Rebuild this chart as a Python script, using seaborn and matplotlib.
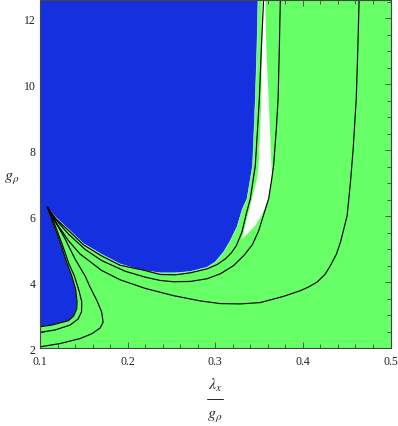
import matplotlib
matplotlib.use('Agg')
import matplotlib.pyplot as plt
import seaborn as sns
from matplotlib.ticker import MultipleLocator
from matplotlib.lines import Line2D

# outer curve: left border -> cusp -> top (edge of the blue area on the left)
a_x = [0.1000, 0.1134, 0.1251, 0.1323, 0.1383, 0.1419, 0.1423, 0.1406, 0.1362, 0.1305, 0.1229, 0.1152, 0.1084,
       0.1183, 0.1323, 0.1495, 0.1705, 0.1914, 0.2200, 0.2371, 0.2543, 0.2714, 0.2905, 0.3020, 0.3114, 0.3185,
       0.3240, 0.3305, 0.3354, 0.3400, 0.3434, 0.3457, 0.3483, 0.3503, 0.3526, 0.3552]
a_y = [2.66, 2.71, 2.79, 2.84, 2.98, 3.20, 3.41, 3.80, 4.20, 4.61, 5.22, 5.77, 6.28,
       5.92, 5.58, 5.14, 4.80, 4.52, 4.36, 4.24, 4.23, 4.29, 4.41, 4.54, 4.71, 4.90,
       5.11, 5.53, 6.08, 6.53, 7.14, 7.54, 8.65, 9.56, 11.08, 12.59]

# middle curve
b_x = [0.1000, 0.1171, 0.1343, 0.1434, 0.1474, 0.1477, 0.1446, 0.1392, 0.1331, 0.1251, 0.1166, 0.1084,
       0.1171, 0.1323, 0.1514, 0.1705, 0.1971, 0.2200, 0.2371, 0.2523, 0.2714, 0.2905, 0.3057, 0.3209,
       0.3331, 0.3423, 0.3495, 0.3549, 0.3609, 0.3640, 0.3666, 0.3697, 0.3717, 0.3731, 0.3743]
b_y = [2.49, 2.56, 2.71, 2.89, 3.11, 3.41, 3.74, 4.20, 4.56, 5.17, 5.77, 6.28,
       5.93, 5.47, 5.00, 4.66, 4.34, 4.16, 4.06, 4.02, 4.03, 4.11, 4.26, 4.51,
       4.83, 5.14, 5.56, 6.02, 6.53, 7.05, 7.54, 8.65, 9.56, 11.08, 12.59]

# inner curve
c_x = [0.1000, 0.1229, 0.1457, 0.1594, 0.1686, 0.1720, 0.1703, 0.1651, 0.1571, 0.1514, 0.1400, 0.1286, 0.1183, 0.1084,
       0.1171, 0.1323, 0.1457, 0.1705, 0.1914, 0.2200, 0.2523, 0.2829, 0.3057, 0.3286, 0.3514, 0.3781, 0.3971,
       0.4063, 0.4162, 0.4257, 0.4314, 0.4383, 0.4429, 0.4505, 0.4543, 0.4574, 0.4609, 0.4627, 0.4642]
c_y = [2.05, 2.15, 2.30, 2.45, 2.62, 2.80, 3.11, 3.44, 3.86, 4.20, 4.71, 5.32, 5.80, 6.28,
       5.86, 5.27, 4.86, 4.36, 4.08, 3.82, 3.60, 3.44, 3.36, 3.35, 3.39, 3.58, 3.75,
       3.86, 4.01, 4.26, 4.51, 4.86, 5.22, 6.02, 7.04, 8.05, 9.56, 11.08, 12.59]

# blue region outline
blue_x = [0.1000, 0.1000, 0.1134, 0.1251, 0.1323, 0.1383, 0.1419, 0.1423, 0.1406, 0.1362, 0.1305, 0.1229, 0.1152, 0.1084,
          0.1183, 0.1323, 0.1495, 0.1705, 0.1914, 0.2143, 0.2371, 0.2543, 0.2714, 0.2905, 0.3000, 0.3095, 0.3171,
          0.3248, 0.3310, 0.3362, 0.3426, 0.3457, 0.3475, 0.3488]
blue_y = [12.6, 2.66, 2.71, 2.79, 2.84, 2.98, 3.20, 3.41, 3.80, 4.20, 4.61, 5.22, 5.77, 6.28,
          5.96, 5.62, 5.18, 4.85, 4.56, 4.38, 4.29, 4.29, 4.33, 4.46, 4.62, 4.92, 5.26,
          5.68, 6.23, 6.53, 7.54, 9.56, 11.08, 12.6]

# white sliver
white_x = [0.3305, 0.3343, 0.3419, 0.3477, 0.3495, 0.3514, 0.3526, 0.3531, 0.3531,
           0.3571, 0.3583, 0.3609, 0.3629, 0.3648, 0.3609, 0.3537, 0.3457, 0.3366]
white_y = [5.32, 5.72, 6.53, 7.14, 7.54, 8.65, 9.56, 11.08, 12.6,
           12.6, 11.08, 9.56, 8.35, 7.14, 6.53, 6.08, 5.72, 5.47]

x_ticks = [0.1, 0.2, 0.3, 0.4, 0.5]
y_ticks = [2, 4, 6, 8, 10, 12]

sns.set_style('ticks')
plt.rcParams['font.family'] = ['Liberation Serif', 'DejaVu Serif']
plt.rcParams['mathtext.fontset'] = 'stix'

fig = plt.figure(figsize=(3.98, 4.27), dpi=100)
ax = fig.add_axes([0.1005, 0.1815, 0.8807, 0.8162])

green = '#66FF66'
blue = '#1530DE'
ax.set_facecolor(green)
ax.fill(blue_x, blue_y, facecolor=blue, edgecolor='white', lw=0.35, zorder=1)
ax.fill(white_x, white_y, facecolor='white', lw=0, zorder=1)

for xs, ys in [(a_x, a_y), (b_x, b_y), (c_x, c_y)]:
    sns.lineplot(x=xs, y=ys, sort=False, estimator=None, color='black', lw=0.85, ax=ax, zorder=2)

ax.set_xlim(0.1, 0.5)
ax.set_ylim(2, 12.55)
ax.set_xticks(x_ticks)
ax.set_xticklabels(['0.1', '0.2', '0.3', '0.4', '0.5'])
ax.set_yticks(y_ticks)
ax.xaxis.set_minor_locator(MultipleLocator(0.02))
ax.yaxis.set_minor_locator(MultipleLocator(0.5))
ax.tick_params(which='both', direction='in', top=True, right=True, colors='#444444',
               labelcolor='#222222', width=0.6, labelsize=8.5)
ax.tick_params(which='major', length=4.5)
ax.tick_params(which='minor', length=2.8)
ax.tick_params(axis='x', pad=5)
ax.tick_params(axis='y', pad=3)
for s in ax.spines.values():
    s.set_color('#444444')
    s.set_linewidth(0.8)
ax.set_xlabel('')
ax.set_ylabel('')

# axis labels
fig.text(0.03, 0.583, r'$g_\rho$', fontsize=11.5, ha='center', va='center')
fig.text(0.540, 0.098, r'$\lambda_x$', fontsize=11.5, ha='center', va='center')
fig.add_artist(Line2D([0.519, 0.560], [0.064, 0.064], color='#222222', lw=0.7))
fig.text(0.540, 0.025, r'$g_\rho$', fontsize=11.5, ha='center', va='center')

fig.savefig('out.png', dpi=100)
